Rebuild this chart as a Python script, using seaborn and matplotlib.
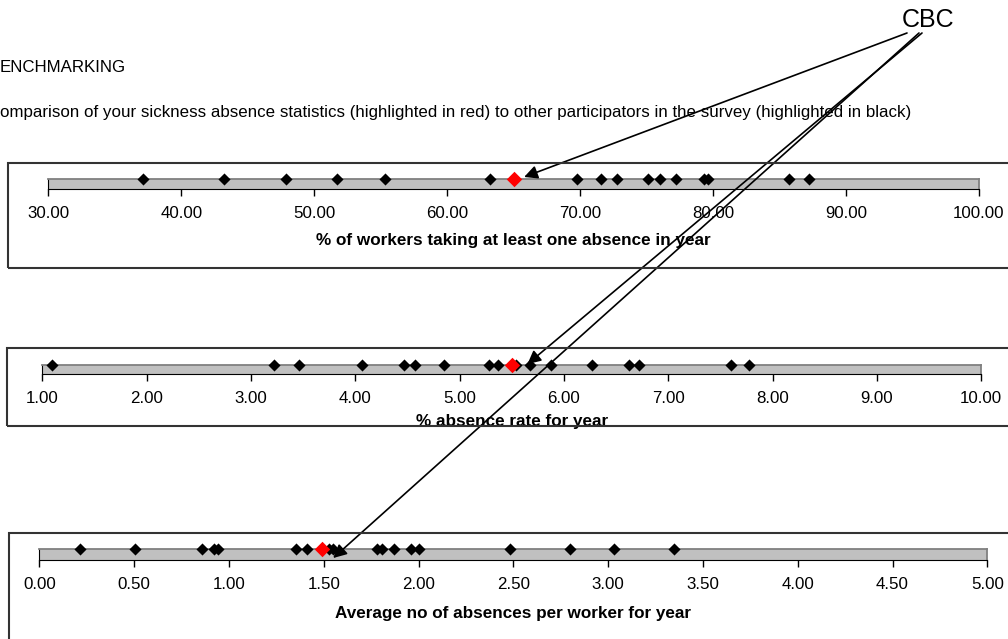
import numpy as np
import pandas as pd
import matplotlib.pyplot as plt
import seaborn as sns
from matplotlib.patches import Rectangle

# values
workers_others = [37.1, 43.2, 47.85, 51.75, 55.35, 63.25, 69.75, 71.6, 72.8,
                  75.1, 76.0, 77.2, 79.35, 79.6, 85.7, 87.25]
workers_cbc = 65.0
workers_ticks = [30, 40, 50, 60, 70, 80, 90, 100]

rate_others = [1.09, 3.22, 3.46, 4.06, 4.47, 4.57, 4.85, 5.28, 5.37, 5.54,
               5.67, 5.88, 6.27, 6.62, 6.72, 7.60, 7.77]
rate_cbc = 5.50
rate_ticks = [1, 2, 3, 4, 5, 6, 7, 8, 9, 10]

avg_others = [0.216, 0.506, 0.856, 0.92, 0.944, 1.355, 1.41, 1.53, 1.55, 1.78,
              1.81, 1.87, 1.96, 2.00, 2.48, 2.80, 3.03, 3.35]
avg_cbc = 1.49
avg_ticks = [0, 0.5, 1, 1.5, 2, 2.5, 3, 3.5, 4, 4.5, 5]

labels = ["% of workers taking at least one absence in year",
          "% absence rate for year",
          "Average no of absences per worker for year"]

sns.set_style("white")
plt.rcParams['font.family'] = ['Liberation Sans', 'DejaVu Sans']
plt.rcParams['text.color'] = 'black'

W, H = 1008, 639
fig = plt.figure(figsize=(W / 100, H / 100), dpi=100)


def px_rect(left, top, right, bottom):
    return [left / W, 1 - bottom / H, (right - left) / W, (bottom - top) / H]


# strip layouts in pixels: bar (left, top, right, bottom), frame box, arrow tip,
# arrow start, xlabel pad
strips = [
    (workers_others, workers_cbc, workers_ticks, labels[0],
     (48.3, 179, 978.7, 189), (8, 163, 1015, 268), (65.8, 1.2), (907, 33), 8.5),
    (rate_others, rate_cbc, rate_ticks, labels[1],
     (42.3, 365, 981.3, 374), (7, 348, 1015, 426), (5.65, 1.1), (922, 33), 5.5),
    (avg_others, avg_cbc, avg_ticks, labels[2],
     (39.3, 549, 987.3, 560), (9, 533, 1015, 650), (1.55, 0.18), (919, 33), 9.5),
]

for others, cbc, ticks, label, bar, box, tip, start, lpad in strips:
    fig.add_artist(Rectangle(px_rect(*box)[:2], *px_rect(*box)[2:],
                             transform=fig.transFigure, fill=False,
                             edgecolor='#333333', lw=1.5))
    ax = fig.add_axes(px_rect(*bar))
    df = pd.DataFrame({'value': others + [cbc],
                       'who': ['other'] * len(others) + ['CBC']})
    df['y'] = 1.0
    sns.scatterplot(data=df[df.who == 'other'], x='value', y='y', marker='D',
                    color='black', s=38, linewidth=0, clip_on=False,
                    zorder=3, ax=ax)
    sns.scatterplot(data=df[df.who == 'CBC'], x='value', y='y', marker='D',
                    color='red', s=62, linewidth=0, clip_on=False,
                    zorder=4, ax=ax)
    ax.set_facecolor('#C0C0C0')
    ax.set_xlim(ticks[0], ticks[-1])
    ax.set_ylim(0, 1)
    ax.set_xticks(ticks)
    ax.set_xticklabels([f"{t:.2f}" for t in ticks])
    ax.set_yticks([])
    ax.set_ylabel('')
    ax.tick_params(axis='x', bottom=True, direction='out', length=5, width=1,
                   color='black', pad=7.5, labelsize=12.2, labelcolor='black')
    for side in ['top', 'right']:
        ax.spines[side].set_color('#808080')
        ax.spines[side].set_linewidth(1.3)
    for side in ['bottom', 'left']:
        ax.spines[side].set_color('black')
    ax.set_xlabel(label, fontsize=12.3, fontweight='bold', labelpad=lpad,
                  color='black')

    ax.annotate('', xy=tip, xycoords=('data', 'axes fraction'),
                xytext=(start[0], H - start[1]), textcoords='figure pixels',
                annotation_clip=False,
                arrowprops=dict(arrowstyle='-|>', color='black', lw=1.2,
                                mutation_scale=20, shrinkA=0, shrinkB=0))

fig.text(928 / W, 1 - 20 / H, "CBC", fontsize=18, ha='center', va='center')
fig.text(0, 1 - 68 / H, "ENCHMARKING", fontsize=12.2, ha='left', va='center')
fig.text(0, 1 - 112 / H,
         "omparison of your sickness absence statistics (highlighted in red) "
         "to other participators in the survey (highlighted in black)",
         fontsize=12.2, ha='left', va='center')

fig.savefig("out.png", dpi=100)
